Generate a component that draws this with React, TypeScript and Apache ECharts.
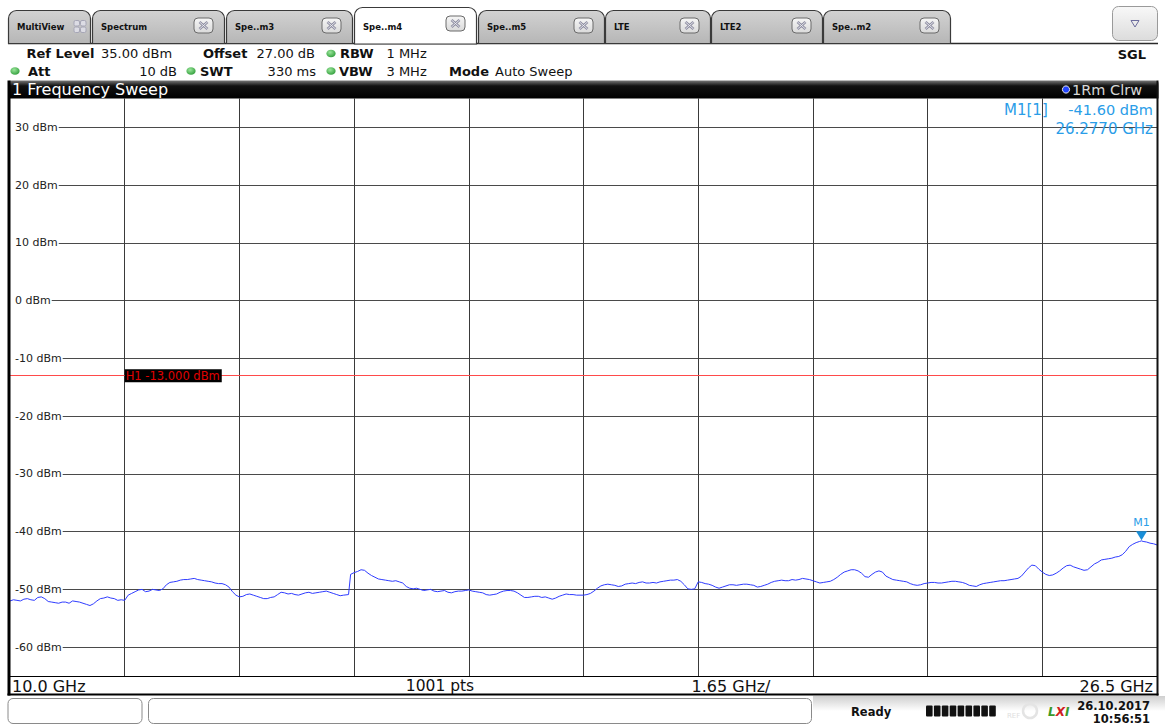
import React, { useEffect, useRef } from 'react';
import * as echarts from 'echarts';

// ---------- data ----------
const freqGHz = [
  10.0, 10.05, 10.1, 10.15, 10.2, 10.25, 10.3, 10.35, 10.4, 10.45, 10.5, 10.55, 10.6, 10.65, 10.7, 10.75, 10.8, 10.85, 10.9, 10.95,
  11.0, 11.05, 11.1, 11.15, 11.2, 11.25, 11.3, 11.35, 11.4, 11.45, 11.5, 11.55, 11.6, 11.65, 11.7, 11.75, 11.8, 11.85, 11.9, 11.95,
  12.0, 12.05, 12.1, 12.15, 12.2, 12.25, 12.3, 12.35, 12.4, 12.45, 12.5, 12.55, 12.6, 12.65, 12.7, 12.75, 12.8, 12.85, 12.9, 12.95,
  13.0, 13.05, 13.1, 13.15, 13.2, 13.25, 13.3, 13.35, 13.4, 13.45, 13.5, 13.55, 13.6, 13.65, 13.7, 13.75, 13.8, 13.85, 13.9, 13.95,
  14.0, 14.05, 14.1, 14.15, 14.2, 14.25, 14.3, 14.35, 14.4, 14.45, 14.5, 14.55, 14.6, 14.65, 14.7, 14.75, 14.8, 14.87, 14.9, 14.95,
  15.0, 15.05, 15.1, 15.15, 15.2, 15.25, 15.3, 15.35, 15.4, 15.45, 15.5, 15.55, 15.6, 15.65, 15.7, 15.75, 15.8, 15.85, 15.9, 15.95,
  16.0, 16.05, 16.1, 16.15, 16.2, 16.25, 16.3, 16.35, 16.4, 16.45, 16.5, 16.55, 16.6, 16.65, 16.7, 16.75, 16.8, 16.85, 16.9, 16.95,
  17.0, 17.05, 17.1, 17.15, 17.2, 17.25, 17.3, 17.35, 17.4, 17.45, 17.5, 17.55, 17.6, 17.65, 17.7, 17.75, 17.8, 17.85, 17.9, 17.95,
  18.0, 18.05, 18.1, 18.15, 18.2, 18.25, 18.3, 18.35, 18.4, 18.45, 18.5, 18.55, 18.6, 18.65, 18.7, 18.75, 18.8, 18.85, 18.9, 18.95,
  19.0, 19.05, 19.1, 19.15, 19.2, 19.25, 19.3, 19.35, 19.4, 19.45, 19.5, 19.55, 19.6, 19.65, 19.7, 19.75, 19.8, 19.85, 19.9, 19.95,
  20.0, 20.05, 20.1, 20.15, 20.2, 20.25, 20.3, 20.35, 20.4, 20.45, 20.5, 20.55, 20.6, 20.65, 20.7, 20.75, 20.8, 20.85, 20.9, 20.95,
  21.0, 21.05, 21.1, 21.15, 21.2, 21.25, 21.3, 21.35, 21.4, 21.45, 21.5, 21.55, 21.6, 21.65, 21.7, 21.75, 21.8, 21.85, 21.9, 21.95,
  22.0, 22.05, 22.1, 22.15, 22.2, 22.25, 22.3, 22.35, 22.4, 22.45, 22.5, 22.55, 22.6, 22.65, 22.7, 22.75, 22.8, 22.85, 22.9, 22.95,
  23.0, 23.05, 23.1, 23.15, 23.2, 23.25, 23.3, 23.35, 23.4, 23.45, 23.5, 23.55, 23.6, 23.65, 23.7, 23.75, 23.8, 23.85, 23.9, 23.95,
  24.0, 24.05, 24.1, 24.15, 24.2, 24.25, 24.3, 24.35, 24.4, 24.45, 24.5, 24.55, 24.6, 24.65, 24.7, 24.75, 24.8, 24.85, 24.9, 24.95,
  25.0, 25.05, 25.1, 25.15, 25.2, 25.25, 25.3, 25.35, 25.4, 25.45, 25.5, 25.55, 25.6, 25.65, 25.7, 25.75, 25.8, 25.85, 25.9, 25.95,
  26.0, 26.05, 26.1, 26.15, 26.2, 26.25, 26.277, 26.3, 26.35, 26.4, 26.45, 26.5,
];
const levelDbm = [
  -52.0, -51.8, -51.9, -52.0, -51.7, -51.6, -51.8, -51.9, -51.4, -51.3, -51.6, -52.1, -52.2, -52.3, -52.4, -52.2, -52.2, -52.4, -52.0, -52.1,
  -52.2, -52.4, -52.6, -52.8, -52.5, -52.0, -51.6, -51.5, -51.3, -51.5, -51.6, -51.9, -51.8, -51.9, -51.0, -50.7, -50.4, -50.1, -50.0, -50.4,
  -50.3, -50.0, -50.1, -50.2, -49.9, -49.2, -48.8, -48.7, -48.6, -48.4, -48.3, -48.3, -48.2, -48.1, -48.3, -48.4, -48.5, -48.6, -48.7, -48.9,
  -49.0, -49.0, -49.2, -49.6, -50.4, -51.0, -51.3, -51.2, -50.9, -50.8, -51.0, -51.2, -51.4, -51.6, -51.6, -51.4, -51.3, -50.9, -50.5, -50.6,
  -50.8, -50.7, -50.9, -51.0, -50.8, -50.6, -50.5, -50.7, -50.6, -50.5, -50.4, -50.3, -50.5, -50.7, -50.9, -51.1, -51.0, -50.9, -47.4, -47.1,
  -46.9, -46.6, -46.7, -47.2, -47.6, -47.9, -48.2, -48.3, -48.4, -48.5, -48.6, -48.5, -48.7, -48.9, -49.5, -49.8, -49.9, -49.8, -50.0, -50.2,
  -50.1, -50.0, -50.3, -50.4, -50.3, -50.2, -50.5, -50.6, -50.4, -50.3, -50.3, -50.2, -50.1, -50.3, -50.4, -50.5, -50.6, -50.9, -51.0, -50.9,
  -50.8, -50.5, -50.3, -50.2, -50.2, -50.3, -50.6, -51.0, -51.4, -51.4, -51.3, -51.2, -51.2, -51.4, -51.3, -51.5, -51.7, -51.5, -51.2, -51.0,
  -50.8, -50.9, -50.9, -51.0, -51.0, -51.0, -50.9, -50.7, -50.3, -49.8, -49.4, -49.2, -49.1, -49.2, -49.3, -49.5, -49.4, -49.1, -49.0, -48.9,
  -49.0, -48.8, -48.7, -48.9, -48.9, -48.8, -48.9, -48.7, -48.6, -48.5, -48.4, -48.4, -48.3, -48.6, -49.2, -49.9, -50.0, -49.9, -48.7, -48.8,
  -49.0, -49.1, -49.3, -49.6, -49.8, -49.6, -49.4, -49.2, -49.2, -49.3, -49.2, -49.1, -49.1, -49.2, -49.3, -49.6, -49.5, -49.3, -49.1, -48.8,
  -48.6, -48.5, -48.4, -48.5, -48.5, -48.3, -48.4, -48.3, -48.1, -48.2, -48.3, -48.5, -48.7, -48.9, -48.8, -48.7, -48.6, -48.3, -47.9, -47.4,
  -47.0, -46.8, -46.6, -46.6, -46.8, -47.2, -47.8, -47.9, -47.4, -47.0, -46.8, -47.0, -47.7, -48.0, -48.3, -48.4, -48.5, -48.6, -48.7, -49.0,
  -49.2, -49.3, -49.2, -49.0, -48.9, -48.8, -48.8, -48.9, -48.9, -48.8, -48.7, -48.6, -48.6, -48.7, -48.8, -49.0, -49.3, -49.4, -49.5, -49.2,
  -49.0, -48.9, -48.8, -48.7, -48.6, -48.5, -48.5, -48.4, -48.3, -48.2, -48.1, -47.7, -47.0, -46.3, -45.8, -45.9, -46.5, -47.0, -47.4, -47.6,
  -47.5, -47.2, -46.8, -46.3, -45.9, -45.8, -46.1, -46.3, -46.5, -46.7, -46.6, -46.1, -45.6, -45.3, -44.9, -44.8, -44.7, -44.6, -44.4, -44.3,
  -44.0, -43.4, -42.6, -42.2, -41.9, -41.7, -41.6, -41.7, -41.8, -42.0, -42.1, -42.3,
];
const xMinGHz = 10.0;
const xMaxGHz = 26.5;
const xTickGHz = [11.65, 13.3, 14.95, 16.6, 18.25, 19.9, 21.55, 23.2, 24.85];
const yMinDbm = -65;
const yMaxDbm = 35;
const yTickDbm = [-60, -50, -40, -30, -20, -10, 0, 10, 20, 30];
const h1LevelDbm = -13;
const m1FreqGHz = 26.277;
const m1LevelDbm = -41.6;
const sweepPoints = 1001;
const spanPerDivGHz = 1.65;

const tabNames = ['MultiView', 'Spectrum', 'Spe..m3', 'Spe..m4', 'Spe..m5', 'LTE', 'LTE2', 'Spe..m2'];
const activeTab = 'Spe..m4';

// ---------- layout (UI) ----------
const tabEdges: [number, number][] = [
  [8.5, 90.5], [92.5, 224.5], [226.5, 352.5], [354.5, 476.5],
  [478.5, 604.5], [605.5, 710.5], [711.5, 822.5], [823.5, 950.5],
];

const FONT = 'DejaVu Sans';
const MARK_BLUE = '#2a9de8';

function buildGraphic(h1: number[]) {
  const g: any[] = [];
  g.push({ type: 'line', shape: { x1: 8, y1: 43.5, x2: 1158, y2: 43.5 }, style: { stroke: '#2a2a2a', lineWidth: 1.5 } });
  tabNames.forEach((name, i) => {
    const [x0, x1] = tabEdges[i];
    const active = name === activeTab;
    g.push({
      type: 'rect',
      shape: { x: x0, y: active ? 7.5 : 10.5, width: x1 - x0, height: active ? 36.5 : 33, r: [8, 8, 0, 0] },
      style: {
        fill: active ? '#ffffff' : new echarts.graphic.LinearGradient(0, 0, 0, 1, [
          { offset: 0, color: '#d2d2d2' }, { offset: 1, color: '#b6b6b6' },
        ]),
        stroke: '#3a3a3a', lineWidth: 1.2,
      },
    });
    g.push({
      type: 'text', x: x0 + 8.5, y: 27,
      style: { text: name, fill: '#111', font: `bold 8.5px "${FONT}"`, verticalAlign: 'middle' },
    });
    if (name === 'MultiView') {
      [[74, 20.5], [80.5, 20.5], [74, 27], [80.5, 27]].forEach(([sx, sy]) => {
        g.push({ type: 'rect', shape: { x: sx, y: sy, width: 5.5, height: 5.5, r: 1.5 }, style: { fill: '#dcdce4', stroke: '#a6a6b6', lineWidth: 1 } });
      });
    } else {
      const bx = x1 - 30.5;
      const by = active ? 16 : 18;
      g.push({
        type: 'rect', shape: { x: bx, y: by, width: 19, height: 15, r: 4 },
        style: {
          fill: new echarts.graphic.LinearGradient(0, 0, 0, 1, [
            { offset: 0, color: '#f6f6f6' }, { offset: 1, color: '#dadada' },
          ]),
          stroke: '#6a6a6a', lineWidth: 1,
        },
      });
      const cx = bx + 9.5, cy = by + 7.5;
      [[-4, -3.5, 4, 3.5], [-4, 3.5, 4, -3.5]].forEach(([a, b, c, d]) => {
        g.push({ type: 'line', shape: { x1: cx + a, y1: cy + b, x2: cx + c, y2: cy + d }, style: { stroke: '#8c8ca0', lineWidth: 2.6 } });
      });
      [[-4, -3.5, 4, 3.5], [-4, 3.5, 4, -3.5]].forEach(([a, b, c, d]) => {
        g.push({ type: 'line', shape: { x1: cx + a, y1: cy + b, x2: cx + c, y2: cy + d }, style: { stroke: '#eeeef4', lineWidth: 0.9 } });
      });
    }
  });
  g.push({
    type: 'rect', shape: { x: 1112.5, y: 6.5, width: 45, height: 34, r: 6 },
    style: {
      fill: new echarts.graphic.LinearGradient(0, 0, 0, 1, [
        { offset: 0, color: '#f8f8f8' }, { offset: 1, color: '#dcdcdc' },
      ]),
      stroke: '#9a9a9a', lineWidth: 1,
    },
  });
  g.push({ type: 'polygon', shape: { points: [[1131, 20.5], [1139, 20.5], [1135, 27]] }, style: { fill: 'none', stroke: '#6c6c9c', lineWidth: 1 } });

  const txt = (text: string, x: number, y: number, bold = false, align = 'left', size = 13, fill = '#111') =>
    g.push({ type: 'text', x, y, style: { text, fill, font: `${bold ? 'bold ' : ''}${size}px "${FONT}"`, align, verticalAlign: 'middle' } });
  const dot = (x: number, y: number) =>
    g.push({
      type: 'ellipse', shape: { cx: x, cy: y, rx: 4.6, ry: 3.8 },
      style: {
        fill: new echarts.graphic.RadialGradient(0.4, 0.35, 0.7, [
          { offset: 0, color: '#9ae69a' }, { offset: 1, color: '#2f9c3a' },
        ]),
      },
    });
  const r1 = 53.5, r2 = 71;
  txt('Ref Level', 26.5, r1, true);
  txt('35.00 dBm', 101, r1);
  txt('Offset', 203, r1, true);
  txt('27.00 dB', 256.5, r1);
  dot(331, r1);
  txt('RBW', 340, r1, true);
  txt('1 MHz', 386.5, r1);
  txt('SGL', 1146, r1 + 1, true, 'right');
  dot(15, r2);
  txt('Att', 28, r2, true);
  txt('10 dB', 177, r2, false, 'right');
  dot(191, r2);
  txt('SWT', 200, r2, true);
  txt('330 ms', 316, r2, false, 'right');
  dot(331, r2);
  txt('VBW', 339, r2, true);
  txt('3 MHz', 386.5, r2);
  txt('Mode', 449, r2, true);
  txt('Auto Sweep', 495, r2);

  g.push({
    type: 'rect', shape: { x: 8, y: 80.5, width: 1150.5, height: 18, r: [3, 3, 0, 0] },
    style: {
      fill: new echarts.graphic.LinearGradient(0, 0, 0, 1, [
        { offset: 0, color: '#777777' }, { offset: 0.3, color: '#111111' }, { offset: 1, color: '#000000' },
      ]),
    },
  });
  txt('1 Frequency Sweep', 12, 89.8, false, 'left', 16, '#ffffff');
  g.push({ type: 'circle', shape: { cx: 1066, cy: 89.5, r: 3.6 }, style: { fill: '#2244ff', stroke: '#e8e8e8', lineWidth: 1 } });
  txt('1Rm Clrw', 1072, 89.8, false, 'left', 14.5, '#d8d8d8');

  g.push({ type: 'rect', shape: { x: 7.5, y: 80.5, width: 3, height: 615 }, style: { fill: '#000' }, z: 20 });
  g.push({ type: 'rect', shape: { x: 1156.5, y: 80.5, width: 2, height: 615 }, style: { fill: '#111' }, z: 20 });
  g.push({ type: 'line', shape: { x1: 10, y1: 676.5, x2: 1157, y2: 676.5 }, style: { stroke: '#000', lineWidth: 1 }, z: 20 });
  g.push({ type: 'rect', shape: { x: 7.5, y: 693.5, width: 1151, height: 2 }, style: { fill: '#000' }, z: 20 });

  txt(`${xMinGHz.toFixed(1)} GHz`, 12, 686, false, 'left', 16);
  txt(`${sweepPoints} pts`, 440, 686, false, 'center', 15.5);
  txt(`${spanPerDivGHz} GHz/`, 731, 686, false, 'center', 16);
  txt(`${xMaxGHz.toFixed(1)} GHz`, 1153, 686, false, 'right', 16);

  g.push({ type: 'text', x: 1004, y: 110, z: 10, style: { text: 'M1[1]', fill: MARK_BLUE, font: `15px "${FONT}"`, verticalAlign: 'middle' } });
  g.push({ type: 'text', x: 1153, y: 110, z: 10, style: { text: `${m1LevelDbm.toFixed(2)} dBm`, fill: MARK_BLUE, font: `14.5px "${FONT}"`, align: 'right', verticalAlign: 'middle' } });
  g.push({ type: 'text', x: 1153, y: 129, z: 10, style: { text: `${m1FreqGHz.toFixed(4)} GHz`, fill: MARK_BLUE, font: `15px "${FONT}"`, align: 'right', verticalAlign: 'middle' } });

  g.push({
    type: 'text', x: h1[0], y: h1[1], z: 10,
    style: {
      text: `H1 ${h1LevelDbm.toFixed(3)} dBm`, fill: '#e00000', font: `11.5px "${FONT}"`,
      verticalAlign: 'middle', backgroundColor: '#000', padding: [1, 2, 0, 1],
    },
  });

  g.push({
    type: 'rect', shape: { x: 813, y: 696, width: 352, height: 30 },
    style: {
      fill: new echarts.graphic.LinearGradient(0, 0, 0, 1, [
        { offset: 0, color: '#cfcfcf' }, { offset: 0.5, color: '#ffffff' }, { offset: 1, color: '#ffffff' },
      ]),
    },
  });
  g.push({ type: 'rect', shape: { x: 8, y: 698.5, width: 134, height: 25, r: 5 }, style: { fill: '#fff', stroke: '#8a8a8a', lineWidth: 1 } });
  g.push({ type: 'rect', shape: { x: 148.5, y: 698.5, width: 663, height: 25, r: 5 }, style: { fill: '#fff', stroke: '#8a8a8a', lineWidth: 1 } });
  txt('Ready', 851, 712, true, 'left', 11.5);
  for (let i = 0; i < 9; i++) {
    g.push({ type: 'rect', shape: { x: 926 + i * 7.9, y: 705.5, width: 6.6, height: 11, r: 1 }, style: { fill: '#111' } });
  }
  g.push({ type: 'circle', shape: { cx: 1030, cy: 711, r: 7 }, style: { fill: 'none', stroke: '#e4e4e4', lineWidth: 2.5 } });
  txt('REF', 1007, 716, false, 'left', 7, '#e0e0e0');
  g.push({
    type: 'text', x: 1048, y: 712,
    style: {
      text: '{g|L}{r|X}{g|I}', verticalAlign: 'middle',
      rich: {
        g: { fill: '#3a9a2a', font: `italic bold 12px "${FONT}"` },
        r: { fill: '#d02020', font: `italic bold 12px "${FONT}"` },
      },
    },
  });
  txt('26.10.2017', 1150, 705.5, true, 'right', 11.5);
  txt('10:56:51', 1150, 718.5, true, 'right', 11.5);
  return g;
}

export default function App() {
  const ref = useRef<HTMLDivElement>(null);
  useEffect(() => {
    const chart = echarts.init(ref.current!, null, { renderer: 'svg' });
    chart.setOption({
      animation: false,
      backgroundColor: '#ffffff',
      grid: { left: 10, right: 8, top: 98.5, bottom: 50 },
      xAxis: {
        type: 'value', min: xMinGHz, max: xMaxGHz,
        axisLine: { show: false },
        axisTick: { show: false, customValues: xTickGHz },
        axisLabel: { show: false, customValues: xTickGHz },
        splitLine: { show: true, lineStyle: { color: '#3a3a3a', width: 1 } },
      },
      yAxis: {
        type: 'value', min: yMinDbm, max: yMaxDbm,
        axisLine: { show: false },
        axisTick: { show: false, customValues: yTickDbm },
        axisLabel: {
          show: true, inside: true, customValues: yTickDbm,
          formatter: (v: number) => `${v} dBm`,
          color: '#222', fontSize: 11, fontFamily: FONT, margin: 0,
          backgroundColor: '#ffffff', padding: [1, 1, 1, 5],
        },
        splitLine: { show: true, lineStyle: { color: '#4a4a4a', width: 1 } },
      },
      series: [
        {
          type: 'line',
          data: freqGHz.map((f, i) => [f, levelDbm[i]]),
          showSymbol: false,
          lineStyle: { color: '#2f3cff', width: 1 },
          z: 3,
          markLine: {
            silent: true, symbol: 'none', animation: false,
            data: [{ yAxis: h1LevelDbm }],
            lineStyle: { color: '#ff4a4a', width: 1, type: 'solid' },
            label: { show: false },
          },
          markPoint: {
            animation: false,
            data: [{ coord: [m1FreqGHz, m1LevelDbm] }],
            symbol: 'triangle', symbolRotate: 180, symbolSize: [11, 9], symbolOffset: [0, -5],
            itemStyle: { color: '#1a8fd8' },
            label: { show: true, position: 'top', formatter: 'M1', color: MARK_BLUE, fontSize: 11, fontFamily: FONT, distance: 3 },
          },
        },
      ],
    });
    const h1 = chart.convertToPixel({ gridIndex: 0 }, [xTickGHz[0], h1LevelDbm]) as number[];
    chart.setOption({ graphic: buildGraphic(h1) });
    return () => chart.dispose();
  }, []);
  return <div ref={ref} style={{ position: 'fixed', left: 0, top: 0, width: 1165, height: 726 }} />;
}
